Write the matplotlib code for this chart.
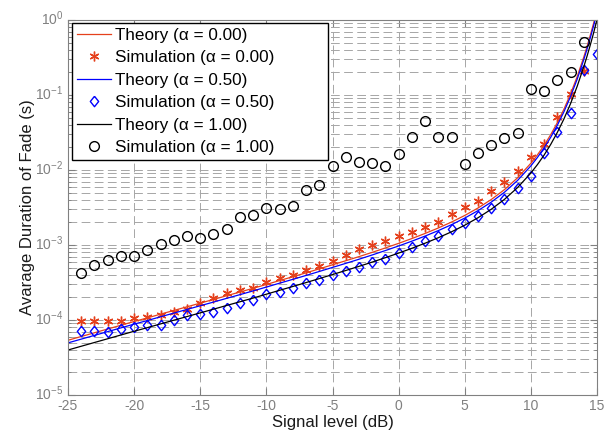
import numpy as np
import matplotlib
matplotlib.use('Agg')
from matplotlib import pyplot as plt
from matplotlib.ticker import LogLocator, FixedLocator, NullFormatter
from matplotlib.transforms import ScaledTranslation

plt.rcParams.update({'font.family': ['Liberation Sans', 'DejaVu Sans'],
                     'axes.unicode_minus': False,
                     'mathtext.fontset': 'custom',
                     'mathtext.rm': 'Liberation Sans',
                     'mathtext.it': 'Liberation Sans:italic',
                     'mathtext.bf': 'Liberation Sans:bold'})

# signal level (dB) for the theory curves
snr_theory = [-25, -24, -23, -22, -21, -20, -19, -18, -17, -16, -15, -14, -13, -12,
              -11, -10, -9, -8, -7, -6, -5, -4, -3, -2, -1, 0, 1, 2, 3, 4, 5, 6, 7,
              8, 9, 10, 10.5, 11, 11.5, 12, 12.5, 13, 13.5, 14, 14.25, 14.5, 14.75, 15]
# log10 of average fade duration (s)
theory_a000 = [-4.27, -4.22, -4.17, -4.12, -4.07, -4.02, -3.972, -3.922, -3.873, -3.824,
               -3.775, -3.726, -3.676, -3.627, -3.577, -3.526, -3.474, -3.423, -3.371,
               -3.318, -3.264, -3.210, -3.155, -3.098, -3.039, -2.978, -2.914, -2.846,
               -2.773, -2.694, -2.606, -2.507, -2.394, -2.262, -2.103, -1.910, -1.797,
               -1.671, -1.529, -1.369, -1.189, -0.985, -0.755, -0.494, -0.351, -0.199,
               -0.038, 0.135]
theory_a050 = [-4.305, -4.255, -4.205, -4.155, -4.105, -4.055, -4.007, -3.957, -3.908,
               -3.859, -3.810, -3.761, -3.711, -3.662, -3.612, -3.561, -3.509, -3.458,
               -3.406, -3.353, -3.299, -3.245, -3.190, -3.133, -3.074, -3.013, -2.949,
               -2.881, -2.808, -2.729, -2.641, -2.542, -2.429, -2.297, -2.138, -1.945,
               -1.832, -1.706, -1.564, -1.404, -1.224, -1.020, -0.790, -0.529, -0.386,
               -0.234, -0.073, 0.100]
theory_a100 = [-4.40, -4.35, -4.30, -4.25, -4.20, -4.15, -4.102, -4.052, -4.003, -3.954,
               -3.905, -3.856, -3.806, -3.757, -3.707, -3.656, -3.604, -3.553, -3.501,
               -3.448, -3.394, -3.340, -3.285, -3.228, -3.169, -3.108, -3.044, -2.976,
               -2.903, -2.824, -2.736, -2.637, -2.524, -2.392, -2.233, -2.040, -1.927,
               -1.801, -1.659, -1.499, -1.319, -1.115, -0.885, -0.624, -0.481, -0.329,
               -0.168, 0.005]

snr_sim = list(range(-24, 16))
sim_a000 = [-4.009, -4.009, -4.009, -4.009, -3.973, -3.956, -3.933, -3.897, -3.857, -3.777,
            -3.705, -3.640, -3.605, -3.577, -3.489, -3.444, -3.400, -3.333, -3.280, -3.209,
            -3.133, -3.057, -3.004, -2.950, -2.885, -2.823, -2.764, -2.689, -2.591, -2.489,
            -2.413, -2.276, -2.156, -2.013, -1.823, -1.653, -1.289, -0.987, -0.676, np.nan]
sim_a050 = [-4.143, -4.151, -4.160, -4.124, -4.089, -4.062, -4.062, -4.000, -3.937, -3.915,
            -3.887, -3.838, -3.777, -3.728, -3.653, -3.631, -3.578, -3.511, -3.467, -3.400,
            -3.343, -3.289, -3.231, -3.185, -3.111, -3.023, -2.947, -2.876, -2.787, -2.703,
            -2.609, -2.511, -2.383, -2.236, -2.080, -1.777, -1.493, -1.240, -0.667, -0.453]
sim_a100 = [-3.377, -3.267, -3.200, -3.147, -3.147, -3.060, -2.991, -2.929, -2.876, -2.900,
            -2.853, -2.790, -2.630, -2.604, -2.510, -2.516, -2.480, -2.267, -2.196, -1.947,
            -1.823, -1.893, -1.910, -1.947, -1.787, -1.564, -1.347, -1.556, -1.556, -1.916,
            -1.773, -1.671, -1.573, -1.511, -0.924, -0.947, -0.804, -0.693, -0.289, np.nan]

red = '#e5401c'
grey = '#808080'
diamond = [(0, 1), (0.8, 0), (0, -1), (-0.8, 0), (0, 1)]

fig = plt.figure(figsize=(6.14, 4.32), dpi=100)
ax = fig.add_axes([68/614, 37/432, 529/614, 375/432])

ax.semilogy(snr_theory, 10**np.array(theory_a000), color=red, lw=0.9, label='Theory (α = 0.00)')
ax.semilogy(snr_sim, 10**np.array(sim_a000), ls='none', marker=(6, 2, 0), ms=7,
            mec=red, mew=1.0, label='Simulation (α = 0.00)')
ax.semilogy(snr_theory, 10**np.array(theory_a050), color='#0000ff', lw=0.9, label='Theory (α = 0.50)')
ax.semilogy(snr_sim, 10**np.array(sim_a050), ls='none', marker=diamond, ms=7.5,
            mfc='none', mec='#0000ff', mew=1.0, label='Simulation (α = 0.50)')
ax.semilogy(snr_theory, 10**np.array(theory_a100), color='k', lw=0.9, label='Theory (α = 1.00)')
ax.semilogy(snr_sim, 10**np.array(sim_a100), ls='none', marker='o', ms=7,
            mfc='none', mec='k', mew=1.0, label='Simulation (α = 1.00)')

ax.set_xlim(-25, 15)
ax.set_ylim(1e-5, 1)
ax.xaxis.set_major_locator(FixedLocator(range(-25, 16, 5)))
ax.yaxis.set_major_locator(FixedLocator([1e-5, 1e-4, 1e-3, 1e-2, 1e-1, 1]))
ax.yaxis.set_minor_locator(LogLocator(base=10, subs=np.arange(2, 10), numticks=10))
ax.yaxis.set_minor_formatter(NullFormatter())

grid_ls = (0, (9, 4.5))
ax.grid(True, which='major', axis='both', color='#a6a6a6', lw=0.7, ls=grid_ls)
ax.grid(True, which='minor', axis='y', color='#a6a6a6', lw=0.7, ls=grid_ls)
ax.set_axisbelow(True)

for s in ax.spines.values():
    s.set_color(grey)
    s.set_linewidth(0.8)
ax.tick_params(which='both', direction='in', top=True, right=True, color=grey,
               labelcolor=grey, labelsize=10)
ax.tick_params(which='major', length=5)
ax.tick_params(which='minor', length=2.5)
ax.tick_params(axis='x', pad=3)

# y labels sit a little above their ticks, as in the original
nudge = ScaledTranslation(0, 2/72, fig.dpi_scale_trans)
for t in ax.yaxis.get_major_ticks():
    t.label1.set_transform(t.label1.get_transform() + nudge)

ax.set_xlabel('Signal level (dB)', fontsize=12, color='#1a1a1a', labelpad=1)
ax.set_ylabel('Avarage Duration of Fade (s)', fontsize=12, color='#1a1a1a')
ax.yaxis.set_label_coords(-0.062, 0.5)

# MATLAB-like legend box: wider than its text
leg = ax.legend(loc='upper left', bbox_to_anchor=(0.0076, 0.5, 0.484, 0.492), mode='expand',
                fontsize=12.3, frameon=True, fancybox=False, edgecolor='k', framealpha=1,
                borderaxespad=0, borderpad=0.3, labelspacing=0.43, handlelength=2.0,
                handletextpad=0.2)
leg.get_frame().set_linewidth(1.0)

fig.savefig('out.png', dpi=100)
